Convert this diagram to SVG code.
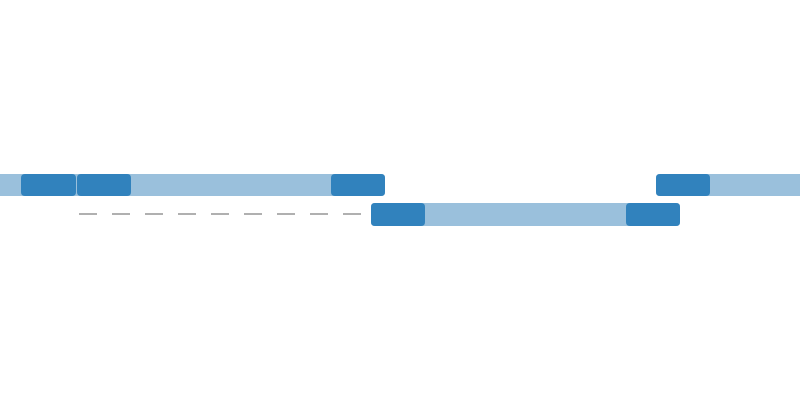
<svg xmlns="http://www.w3.org/2000/svg" width="800" height="400" viewBox="0 0 800 400">
<style>
.bar{fill:#9ac0dc}
.blk{fill:#3182bd}
.dash{stroke:#b0b0b0;stroke-width:2;stroke-dasharray:18 15;fill:none}
</style>
<rect width="800" height="400" fill="#ffffff"/>
<g id="connectors">
<line class="dash" x1="79" y1="214" x2="361" y2="214"/>
</g>
<g id="row1a">
<rect class="bar" x="-10" y="174" width="395" height="22" rx="4"/>
<rect class="blk" x="21" y="174" width="55" height="22" rx="4"/>
<rect class="blk" x="77" y="174" width="54" height="22" rx="4"/>
<rect class="blk" x="331" y="174" width="54" height="22" rx="4"/>
</g>
<g id="row2">
<rect class="bar" x="371" y="203" width="309" height="23" rx="4"/>
<rect class="blk" x="371" y="203" width="54" height="23" rx="4"/>
<rect class="blk" x="626" y="203" width="54" height="23" rx="4"/>
</g>
<g id="row1b">
<rect class="bar" x="656" y="174" width="154" height="22" rx="4"/>
<rect class="blk" x="656" y="174" width="54" height="22" rx="4"/>
</g>
</svg>
